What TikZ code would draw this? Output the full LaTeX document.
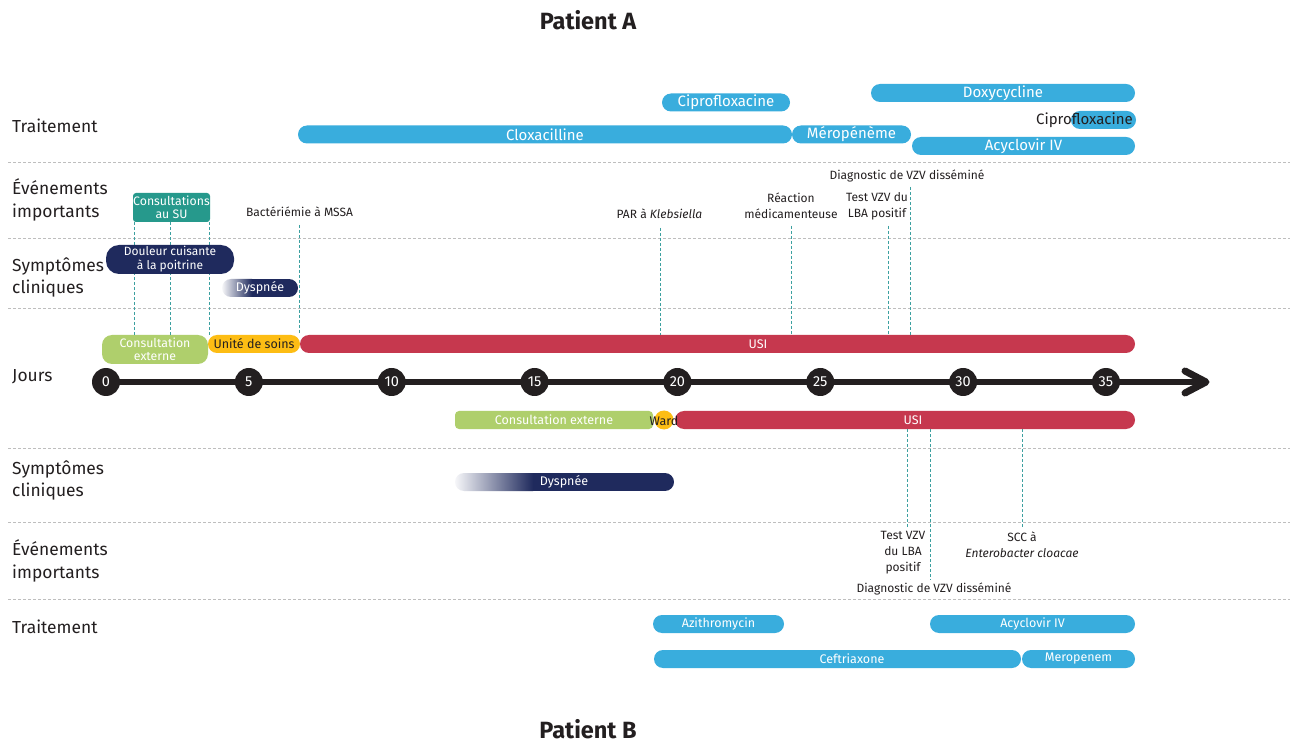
\documentclass[tikz,border=0pt]{standalone}
\usepackage{fontspec}
\setmainfont{Fira Sans}
\definecolor{cblue}{RGB}{57,173,221}
\definecolor{cred}{RGB}{198,56,78}
\definecolor{cgreen}{RGB}{175,207,108}
\definecolor{cyellow}{RGB}{253,189,20}
\definecolor{cnavy}{RGB}{31,42,93}
\definecolor{cteal}{RGB}{38,153,140}
\definecolor{cline}{RGB}{60,160,160}
\definecolor{cdark}{RGB}{35,31,32}
\definecolor{csep}{RGB}{190,190,190}
\newcommand\fTA{\fontsize{15}{16}\selectfont}
\newcommand\fS{\fontsize{12}{16}\selectfont}
\newcommand\fB{\fontsize{12.5}{16}\selectfont}
\newcommand\fSt{\fontsize{12.3}{13}\selectfont}
\newcommand\fSd{\fontsize{12}{14}\selectfont}
\newcommand\fRow{\fontsize{17.4}{22.5}\selectfont}
\newcommand\fDay{\fontsize{14.5}{16}\selectfont}
\newcommand\fTitle{\fontsize{23.5}{26}\selectfont\bfseries}
\begin{document}
\begin{tikzpicture}[x=1pt,y=-1pt,
  bar/.style={rectangle, rounded corners=9pt, minimum height=18pt, inner sep=0pt, text=white, font=\fB},
  sep/.style={draw=csep, line width=0.8pt, dash pattern=on 3pt off 2pt},
  evline/.style={draw=cline, line width=1pt, dash pattern=on 3pt off 2pt},
  evtext/.style={text=cdark, font=\fS, align=center, inner sep=0pt},
  rowlbl/.style={text=cdark, font=\fRow, align=left, anchor=west, inner sep=0pt},
  day/.style={circle, fill=cdark, minimum size=28pt, inner sep=0pt, text=white, font=\fDay},
  axisline/.style={draw=cdark, line width=6pt},
  titlelbl/.style={text=cdark, font=\fTitle, inner sep=0pt},
  barlbl/.style={text=white, font=\fB, inner sep=0pt}
]
\useasboundingbox (0,0) rectangle (1294,743);
\fill[white] (0,0) rectangle (1294,743);

% separators
\foreach \yy in {162,238,308,448,522,599} \draw[sep] (8,\yy) -- (1290,\yy);

% titles
\node[titlelbl] (tA) at (588,20) {Patient A};
\node[titlelbl] (tB) at (588,729) {Patient B};

% row labels
\node[rowlbl] (lTA) at (12,126) {Traitement};
\node[rowlbl] (lEA) at (12,200) {Événements\\importants};
\node[rowlbl] (lSA) at (12,277.5) {Symptômes\\cliniques};
\node[rowlbl] (lJ) at (12,377) {Jours};
\node[rowlbl] (lSB) at (12,480.5) {Symptômes\\cliniques};
\node[rowlbl] (lEB) at (12,561) {Événements\\importants};
\node[rowlbl] (lTB) at (12,627) {Traitement};

% axis
\coordinate (axstart) at (106,382);
\coordinate (tip) at (1206,382);
\coordinate (tipU) at (1185,371);
\coordinate (tipD) at (1185,393);
\draw[axisline] (axstart) -- (1203,382);
\draw[draw=cdark, line width=7pt, line cap=round, line join=round] (tipU) -- (tip) -- (tipD);
\foreach \d in {0,5,...,35} \node[day] (d\d) at ({106+28.571*\d},382) {\d};

% event line end points
\coordinate (x1) at (134,0);
\coordinate (x2) at (170,0);
\coordinate (x3) at (209,0);
\coordinate (b4) at (299,225);
\coordinate (p5) at (660,228);
\coordinate (r6) at (791,226);
\coordinate (t7) at (888,226);
\coordinate (g8) at (910,187);
\coordinate (tb) at (907,528);
\coordinate (gb) at (930,580);
\coordinate (sb) at (1022,528);

% Patient A stays
\node[bar, fill=cgreen, rounded corners=10pt, minimum width=106pt, minimum height=29pt, align=center, font=\fSt] (consA) at (155,349.5) {Consultation\\externe};
\node[bar, fill=cyellow, text=cdark, minimum width=92pt] (unite) at (254,344) {Unité de soins};
\node[bar, fill=cred, minimum width=835pt] (usiA) at (717.5,344) {};
\node[barlbl] (usiAl) at (758,344) {USI};

% Patient B stays
\node[bar, fill=cgreen, rounded corners=4pt, minimum width=198pt] (consB) at (554,420) {Consultation externe};
\node[bar, fill=cred, minimum width=460pt] (usiB) at (905,420) {};
\node[circle, fill=cyellow, minimum size=19pt, inner sep=0pt] (ward) at (664,420) {};
\node[text=cdark, font=\fB, inner sep=0pt] (wardl) at (664,421) {Ward};
\node[barlbl] (usiBl) at (913,420) {USI};

% Patient A events
\node[rectangle, rounded corners=3pt, fill=cteal, minimum width=77pt, minimum height=29pt, inner sep=0pt, text=white, align=center, font=\fSt] (su) at (171.5,207.5) {Consultations\\au SU};
\draw[evline] (su.south -| x1) -- (consA.north -| x1);
\draw[evline] (su.south -| x2) -- (consA.north -| x2);
\draw[evline] (su.south -| x3) -- (unite.north -| x3);
\node[evtext] (bact) at (299.5,212) {Bactériémie à MSSA};
\draw[evline] (b4) -- (usiA.north -| b4);
\node[evtext] (par) at (659.5,214) {PAR à \textit{Klebsiella}};
\draw[evline] (p5) -- (usiA.north -| p5);
\node[evtext] (reac) at (791,206) {Réaction\\médicamenteuse};
\draw[evline] (r6) -- (usiA.north -| r6);
\node[evtext] (testA) at (877,206) {Test VZV du\\LBA positif};
\draw[evline] (t7) -- (usiA.north -| t7);
\node[evtext] (diagA) at (907,176) {Diagnostic de VZV disséminé};
\draw[evline] (g8) -- (usiA.north -| g8);

% Patient A symptoms
\node[bar, fill=cnavy, rounded corners=13pt, minimum width=128pt, minimum height=29pt, align=center, font=\fSd] (douleur) at (170,259.5) {Douleur cuisante\\à la poitrine};
\begin{scope}
  \clip[rounded corners=9pt] (222,279) rectangle (298,297);
  \shade[left color=cnavy!4, right color=cnavy] (222,279) rectangle (252,297);
  \fill[cnavy] (251.5,279) rectangle (298,297);
\end{scope}
\node[barlbl] (dyspA) at (260,288) {Dyspnée};

% Patient A treatments
\node[bar, fill=cblue, font=\fTA, minimum width=128pt] (ciproA) at (726,102.5) {Ciprofloxacine};
\node[bar, fill=cblue, font=\fTA, minimum width=264pt] (doxy) at (1003,93) {Doxycycline};
\node[bar, fill=cblue, minimum width=65pt] (ciproA2) at (1103.5,120) {};
\node[text=cdark, font=\fTA, anchor=east, inner sep=0pt] (ciproA2l) at (1133,120) {Ciprofloxacine};
\node[bar, fill=cblue, font=\fTA, minimum width=494pt] (cloxa) at (545,134.5) {Cloxacilline};
\node[bar, fill=cblue, font=\fTA, minimum width=119pt] (meroA) at (851.5,134.5) {Méropénème};
\node[bar, fill=cblue, font=\fTA, minimum width=223pt] (acyA) at (1023.5,146) {Acyclovir IV};

% Patient B symptoms
\begin{scope}
  \clip[rounded corners=9pt] (455,473) rectangle (674,491);
  \shade[left color=cnavy!4, right color=cnavy] (455,473) rectangle (533,491);
  \fill[cnavy] (532.5,473) rectangle (674,491);
\end{scope}
\node[barlbl] (dyspB) at (564,482) {Dyspnée};

% Patient B events
\node[evtext] (testB) at (903,553) {Test VZV\\du LBA\\positif};
\draw[evline] (usiB.south -| tb) -- (tb);
\node[evtext] (diagB) at (934,589) {Diagnostic de VZV disséminé};
\draw[evline] (usiB.south -| gb) -- (gb);
\node[evtext] (scc) at (1022,545) {SCC à\\\textit{Enterobacter cloacae}};
\draw[evline] (usiB.south -| sb) -- (sb);

% Patient B treatments
\node[bar, fill=cblue, minimum width=131pt] (azi) at (718.5,624) {Azithromycin};
\node[bar, fill=cblue, minimum width=205pt] (acyB) at (1032.5,624) {Acyclovir IV};
\node[bar, fill=cblue, minimum width=367pt] (ceft) at (837.5,659) {};
\node[barlbl] (ceftl) at (852,659) {Ceftriaxone};
\node[bar, fill=cblue, minimum width=113pt] (meroB) at (1078.5,659) {Meropenem};
\end{tikzpicture}
\end{document}
